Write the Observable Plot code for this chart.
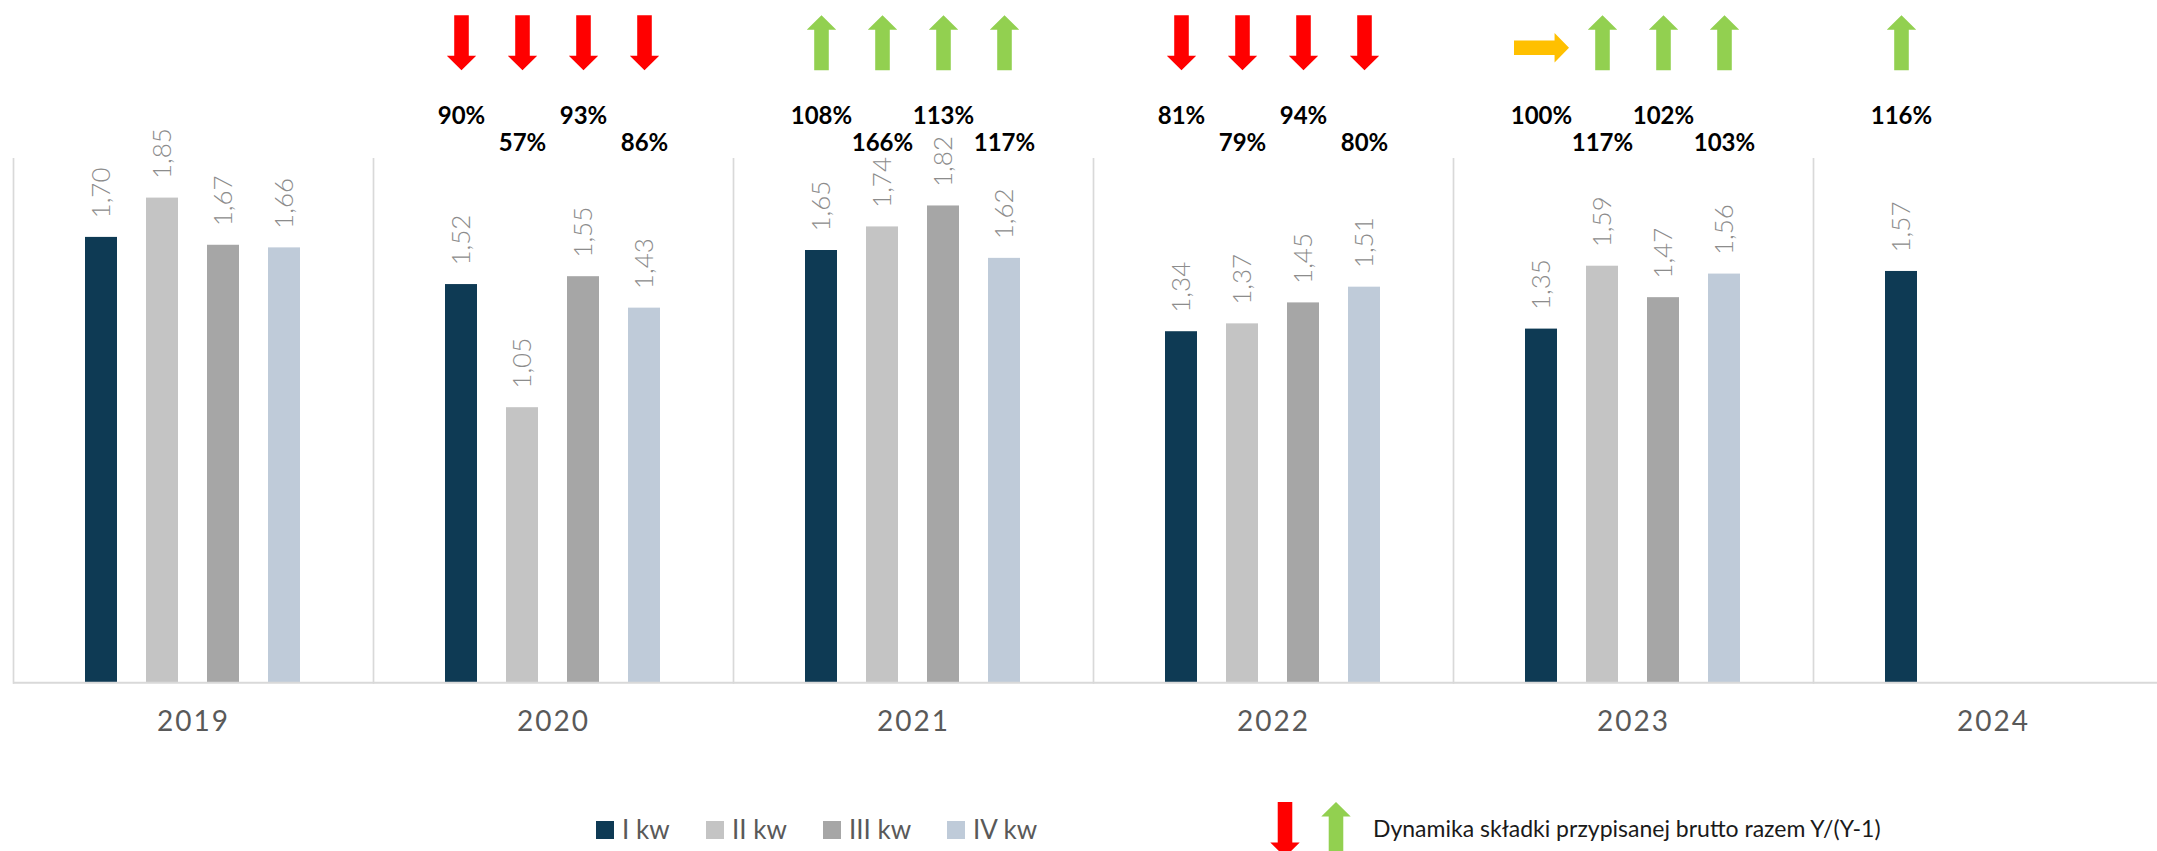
<!DOCTYPE html>
<html><head><meta charset="utf-8">
<script src="https://cdn.jsdelivr.net/npm/d3@7"></script>
<script src="https://cdn.jsdelivr.net/npm/@observablehq/plot@0.6"></script>
<style>
html,body{margin:0;padding:0;background:#fff;overflow:hidden}
#root{position:relative;width:2157px;height:851px;overflow:hidden;font-family:Lato,"Open Sans",sans-serif;background:#fff}
#chart{position:absolute;left:0;top:0;width:2173px}
#chart svg{max-width:none !important}
.sw{position:absolute;width:18px;height:18px;top:821px}
.lt{position:absolute;font-size:26px;line-height:1;color:#595959;top:829px;transform:translateY(-50%);white-space:nowrap}
.dl{position:absolute;font-size:23px;line-height:1;color:#1a1a1a;top:828px;transform:translateY(-50%);white-space:nowrap}
g[aria-label="fx-axis tick label"] text{letter-spacing:2px}
</style></head>
<body><div id="root"><div id="chart"></div></div>
<script>
// ---- data ----
const years = ["2019", "2020", "2021", "2022", "2023", "2024"];
const quarters = ["I kw", "II kw", "III kw", "IV kw"];
const quarterColors = ["#0E3A54", "#C4C4C4", "#A6A6A6", "#BFCBD9"];
const premium2019 = [1.70, 1.85, 1.67, 1.66];
const premium2020 = [1.52, 1.05, 1.55, 1.43];
const premium2021 = [1.65, 1.74, 1.82, 1.62];
const premium2022 = [1.34, 1.37, 1.45, 1.51];
const premium2023 = [1.35, 1.59, 1.47, 1.56];
const premium2024 = [1.57];
const dynamics2019 = [];
const dynamics2020 = [90, 57, 93, 86];
const dynamics2021 = [108, 166, 113, 117];
const dynamics2022 = [81, 79, 94, 80];
const dynamics2023 = [100, 117, 102, 103];
const dynamics2024 = [116];
const dynamicsLabel = "Dynamika składki przypisanej brutto razem Y/(Y-1)";

const premiums = [premium2019, premium2020, premium2021, premium2022, premium2023, premium2024];
const dynamics = [dynamics2019, dynamics2020, dynamics2021, dynamics2022, dynamics2023, dynamics2024];

const bars = years.flatMap((year, i) => premiums[i].map((v, j) => ({year, q: quarters[j], qi: j, v})));
const dyn = years.flatMap((year, i) => dynamics[i].map((p, j) => ({year, q: quarters[j], qi: j, p})));

// ---- block arrow symbols ----
function arrowPath(ctx, r, dir) {
  const hl = 2 * r, sw = 0.53 * r, hw = 1.07 * r, hh = 1.05 * r;
  let pts = [[-sw, -hl], [sw, -hl], [sw, hl - hh], [hw, hl - hh], [0, hl], [-hw, hl - hh], [-sw, hl - hh]];
  if (dir === "up") pts = pts.map(([x, y]) => [x, -y]);
  if (dir === "right") pts = pts.map(([x, y]) => [y, x]);
  ctx.moveTo(pts[0][0], pts[0][1]);
  for (let k = 1; k < pts.length; ++k) ctx.lineTo(pts[k][0], pts[k][1]);
  ctx.closePath();
}
const arrowSymbol = dir => ({draw(ctx, size) { arrowPath(ctx, Math.sqrt(size / Math.PI), dir); }});
const RED = "#FF0000", GREEN = "#92D050", ORANGE = "#FFC000";
const fmt = v => v.toFixed(2).replace(".", ",");

const plot = Plot.plot({
  width: 2173, height: 760,
  marginLeft: 12, marginRight: 0, marginTop: 158.3, marginBottom: 77.7,
  style: {fontFamily: "Lato, 'Open Sans', sans-serif", background: "white", maxWidth: "none"},
  fx: {domain: years, padding: 0},
  x: {domain: quarters, paddingInner: 0.475, paddingOuter: 1.166, axis: null},
  y: {domain: [0, 2], axis: null},
  color: {domain: quarters, range: quarterColors},
  marks: [
    Plot.frame({anchor: "left", stroke: "#D9D9D9", strokeWidth: 1.7}),
    Plot.barY(bars, {fx: "year", x: "q", y: "v", fill: "q"}),
    Plot.ruleY([0], {stroke: "#D9D9D9", strokeWidth: 2}),
    Plot.text(bars, {fx: "year", x: "q", y: "v", text: d => fmt(d.v), rotate: -90, textAnchor: "start",
      lineAnchor: "middle", dy: -19, fontSize: 26, fontWeight: 300, fill: "#8C8C8C"}),
    Plot.dot(dyn.filter(d => d.p < 100), {fx: "year", x: "q", frameAnchor: "top", dy: -116, r: 13.75,
      symbol: arrowSymbol("down"), fill: RED, stroke: "none"}),
    Plot.dot(dyn.filter(d => d.p > 100), {fx: "year", x: "q", frameAnchor: "top", dy: -116, r: 13.75,
      symbol: arrowSymbol("up"), fill: GREEN, stroke: "none"}),
    Plot.dot(dyn.filter(d => d.p === 100), {fx: "year", x: "q", frameAnchor: "top", dy: -111, r: 13.75,
      symbol: arrowSymbol("right"), fill: ORANGE, stroke: "none"}),
    Plot.text(dyn.filter(d => d.qi % 2 === 0), {fx: "year", x: "q", frameAnchor: "top", dy: -52,
      text: d => d.p + "%", fontWeight: "bold", fontSize: 24, fill: "#000"}),
    Plot.text(dyn.filter(d => d.qi % 2 === 1), {fx: "year", x: "q", frameAnchor: "top", dy: -25,
      text: d => d.p + "%", fontWeight: "bold", fontSize: 24, fill: "#000"}),
    Plot.axisFx({anchor: "bottom", tickSize: 0, tickPadding: 28, fontSize: 28, color: "#595959", label: null})
  ]
});
const root = document.getElementById("root");
document.getElementById("chart").appendChild(plot);

// ---- legend (below the svg) ----
const legendX = [596, 706, 823, 947];
quarters.forEach((q, i) => {
  const sw = document.createElement("div");
  sw.className = "sw"; sw.style.left = legendX[i] + "px"; sw.style.background = quarterColors[i];
  root.appendChild(sw);
  const t = document.createElement("div");
  t.className = "lt"; t.style.left = (legendX[i] + 26) + "px"; t.textContent = q;
  root.appendChild(t);
});
function legendArrow(dir, color, cx) {
  const svg = d3.create("svg").attr("width", 40).attr("height", 70)
    .style("position", "absolute").style("left", (cx - 20) + "px").style("top", "802px").style("overflow", "visible");
  const p = d3.path(); arrowPath(p, 13.75, dir);
  svg.append("path").attr("d", p.toString()).attr("transform", "translate(20,27.5)").attr("fill", color);
  root.appendChild(svg.node());
}
legendArrow("down", RED, 1284.5);
legendArrow("up", GREEN, 1336.3);
const dl = document.createElement("div");
dl.className = "dl"; dl.style.left = "1373px"; dl.textContent = dynamicsLabel;
root.appendChild(dl);
</script>
</body></html>
